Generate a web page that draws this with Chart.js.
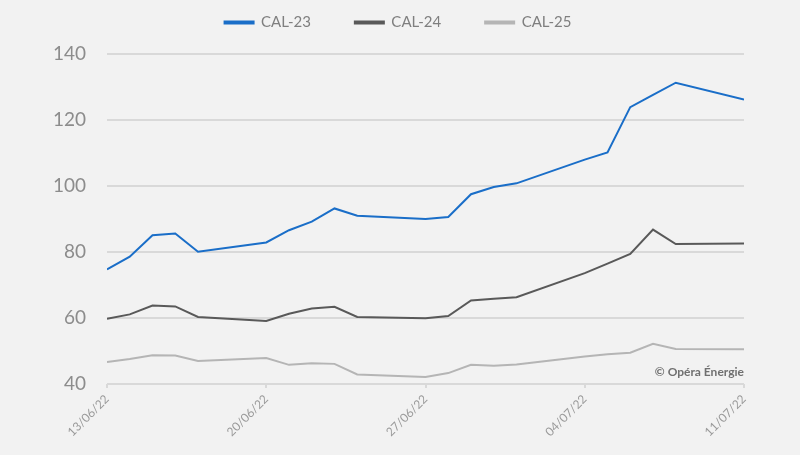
<!DOCTYPE html>
<html>
<head>
<meta charset="utf-8">
<script src="https://cdn.jsdelivr.net/npm/chart.js@4"></script>
<style>
  html, body { margin: 0; padding: 0; background: #f2f2f2; }
  #wrap { width: 800px; height: 455px; }
</style>
</head>
<body>
<div id="wrap"><canvas id="c" width="800" height="455"></canvas></div>
<script>
// ---- data ----
const dates = ['13/06/22','14/06/22','15/06/22','16/06/22','17/06/22',
               '20/06/22','21/06/22','22/06/22','23/06/22','24/06/22',
               '27/06/22','28/06/22','29/06/22','30/06/22','01/07/22',
               '04/07/22','05/07/22','06/07/22','07/07/22','08/07/22',
               '11/07/22'];
const cal23 = [74.7,78.6,85.1,85.6,80.1,82.9,86.6,89.2,93.2,91.0,90.0,90.6,97.5,99.7,100.8,108.0,110.2,123.9,127.6,131.3,126.2];
const cal24 = [59.8,61.1,63.8,63.5,60.3,59.1,61.3,62.9,63.4,60.3,59.9,60.6,65.3,65.8,66.3,73.6,76.5,79.4,86.8,82.4,82.6];
const cal25 = [46.7,47.6,48.7,48.6,47.0,47.9,45.8,46.3,46.1,42.9,42.1,43.3,45.8,45.5,45.9,48.3,49.0,49.5,52.2,50.6,50.5];
const seriesNames = ['CAL-23','CAL-24','CAL-25'];
const xTickLabels = ['13/06/22','20/06/22','27/06/22','04/07/22','11/07/22'];
const yMin = 40, yMax = 140, yStep = 20;

// ---- helpers ----
function dayIndex(s) {
  const [d, m, y] = s.split('/').map(Number);
  const t = Date.UTC(2000 + y, m - 1, d);
  const [d0, m0, y0] = dates[0].split('/').map(Number);
  return Math.round((t - Date.UTC(2000 + y0, m0 - 1, d0)) / 86400000);
}
const toPoints = arr => arr.map((v, i) => ({ x: dayIndex(dates[i]), y: v }));
const xMax = dayIndex(dates[dates.length - 1]);

const colors = ['#1a6ec8', '#595959', '#b5b5b5'];
const FONT = 'Lato, "Source Sans Pro", "Noto Sans", sans-serif';

// legend: wide item spacing, sits near top, centred on the full canvas width
const legendTweak = {
  id: 'legendTweak',
  beforeUpdate(chart) {
    const lg = chart.legend;
    if (lg && !lg._patched) {
      const origFit = lg.fit.bind(lg);
      lg.fit = function () { origFit(); this.height = 54; };
      const origDraw = lg.draw.bind(lg);
      lg.draw = function () {
        const t = this.top, l = this.left, r = this.right;
        this.top = t - 29; this.left = l + 26; this.right = r + 26;
        origDraw();
        this.top = t; this.left = l; this.right = r;
      };
      lg._patched = true;
    }
  }
};

const watermark = {
  id: 'watermark',
  afterDatasetsDraw(chart) {
    const { ctx, chartArea } = chart;
    ctx.save();
    ctx.font = '700 12px ' + FONT;
    ctx.fillStyle = '#707070';
    ctx.textAlign = 'right';
    ctx.textBaseline = 'middle';
    ctx.fillText('© Opéra Énergie', chartArea.right, chartArea.bottom - 12);
    ctx.restore();
  }
};

new Chart(document.getElementById('c'), {
  type: 'line',
  data: {
    datasets: [cal23, cal24, cal25].map((arr, i) => ({
      label: seriesNames[i],
      data: toPoints(arr),
      borderColor: colors[i],
      backgroundColor: colors[i],
      borderWidth: 2,
      pointRadius: 0,
      tension: 0
    }))
  },
  options: {
    responsive: false,
    animation: false,
    layout: { padding: { top: 0, right: 56, left: 0, bottom: 0 } },
    plugins: {
      tooltip: { enabled: false },
      legend: {
        position: 'top',
        align: 'center',
        labels: {
          boxWidth: 29,
          boxHeight: 2,
          padding: 44,
          color: '#7f7f7f',
          font: { family: FONT, size: 15 }
        }
      }
    },
    scales: {
      x: {
        type: 'linear',
        min: 0,
        max: xMax,
        afterFit(scale) { scale.height = 455 - 384; },
        afterBuildTicks(scale) {
          scale.ticks = xTickLabels.map(l => ({ value: dayIndex(l) }));
        },
        ticks: {
          minRotation: 45,
          maxRotation: 45,
          padding: 4,
          color: '#9a9a9a',
          font: { family: FONT, size: 12 },
          callback: (v) => {
            const idx = xTickLabels.findIndex(l => dayIndex(l) === v);
            return idx >= 0 ? xTickLabels[idx] : '';
          }
        },
        grid: {
          drawOnChartArea: false,
          drawTicks: true,
          tickLength: 4,
          color: '#d9d9d9',
          lineWidth: 2
        },
        border: { display: false }
      },
      y: {
        min: yMin,
        max: yMax,
        afterFit(scale) { scale.width = 107; },
        ticks: {
          stepSize: yStep,
          padding: 21,
          color: '#8c8c8c',
          font: { family: FONT, size: 19 }
        },
        grid: {
          color: '#d9d9d9',
          lineWidth: 2,
          drawTicks: false
        },
        border: { display: false }
      }
    }
  },
  plugins: [legendTweak, watermark]
});
</script>
</body>
</html>
